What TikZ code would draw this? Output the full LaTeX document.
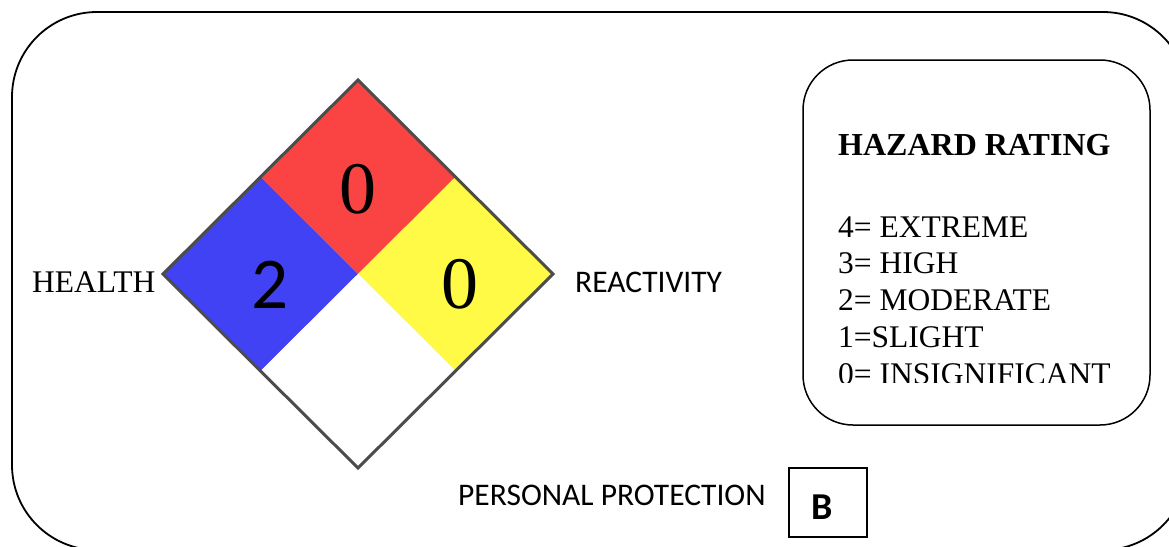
\documentclass[tikz,border=0pt]{standalone}
\usepackage{fontspec}
\setmainfont{Liberation Serif}
\newfontfamily\calfont{Carlito}
\usepackage{tikz}
\usetikzlibrary{positioning}

\definecolor{nfpaRed}{RGB}{250,68,68}
\definecolor{nfpaBlue}{RGB}{66,66,245}
\definecolor{nfpaYellow}{RGB}{255,250,70}

\begin{document}
\begin{tikzpicture}[x=1pt, y=-1pt,
  serifText/.style={inner sep=0pt, font=\fontsize{31.5}{36.7}\selectfont},
  %
  sansText/.style={inner sep=0pt, font=\calfont\fontsize{31.5}{36.7}\selectfont},
  %
  bigDigit/.style={inner sep=0pt, font=\fontsize{74}{80}\selectfont},
  %
  bigSansDigit/.style={inner sep=0pt, font=\calfont\fontsize{73}{80}\selectfont},
  %
  frame/.style={draw=black, line width=1.8pt, rounded corners=#1},
  %
  quad/.style={draw=none, fill=#1}
  ]

  \useasboundingbox (0,0) rectangle (1169,546);
  \draw [frame=85] (12,12) rectangle (1188,550);

  \begin{scope}
    %%%%%%%%%%%%%%%%%%%%%%%%%%%%%%% diamond corners
    \coordinate (top) at (358,80);
    \coordinate (lft) at (163,274);
    \coordinate (rgt) at (553,274);
    \coordinate (bot) at (358,468);
    \coordinate (ctr) at (358,274);
    \coordinate (tl) at (260.5,177);
    \coordinate (tr) at (455.5,177);
    \coordinate (bl) at (260.5,371);
    \coordinate (br) at (455.5,371);
    %%%%%%%%%%%%%%%%%%%%%%%%%%%%%%% quarters
    \fill [quad=nfpaRed] (top) -- (tr) -- (ctr) -- (tl) -- cycle;
    \fill [quad=nfpaBlue] (lft) -- (tl) -- (ctr) -- (bl) -- cycle;
    \fill [quad=nfpaYellow] (rgt) -- (br) -- (ctr) -- (tr) -- cycle;
    \fill [quad=white] (bot) -- (bl) -- (ctr) -- (br) -- cycle;
    \draw [black!70, line width=3pt] (top) -- (rgt) -- (bot) -- (lft) -- cycle;
    %%%%%%%%%%%%%%%%%%%%%%%%%%%%%%% ratings
    \node [bigDigit, anchor=base] (fire) at (358,213) {0};
    \node [bigSansDigit, anchor=base] (health) at (270,308) {2};
    \node [bigDigit, anchor=base] (react) at (460,308) {0};
  \end{scope}

  \begin{scope}
    \node [serifText, anchor=base west] (healthLbl) at (32,292) {HEALTH};
    \node [sansText, anchor=base west] (reactLbl) at (575,292) {REACTIVITY};
    \node [sansText, anchor=base west] (protLbl) at (458,505) {PERSONAL PROTECTION};
    \node [draw, line width=1.4pt, minimum width=78pt, minimum height=69pt]
      (protBox) at (828,502.5) {};
    \node [inner sep=0pt, anchor=base, font=\calfont\bfseries\fontsize{38}{40}\selectfont]
      (protVal) at (822,519) {B};
  \end{scope}

  \begin{scope}
    \draw [frame=50, line width=1.5pt] (803,60) rectangle (1150,425);
    \node [serifText, anchor=base west, font=\bfseries\fontsize{32}{36.7}\selectfont]
      (legTitle) at (838,155) {HAZARD RATING};
    \begin{scope}
      \clip (803,60) rectangle (1150,382);
      \node [serifText, anchor=base west] (leg4) at (838,237) {4= EXTREME};
      \node [serifText, anchor=base west] (leg3) at (838,273.5) {3= HIGH};
      \node [serifText, anchor=base west] (leg2) at (838,310) {2= MODERATE};
      \node [serifText, anchor=base west] (leg1) at (838,347) {1=SLIGHT};
      \node [serifText, anchor=base west] (leg0) at (838,384) {0= INSIGNIFICANT};
    \end{scope}
  \end{scope}

\end{tikzpicture}
\end{document}
